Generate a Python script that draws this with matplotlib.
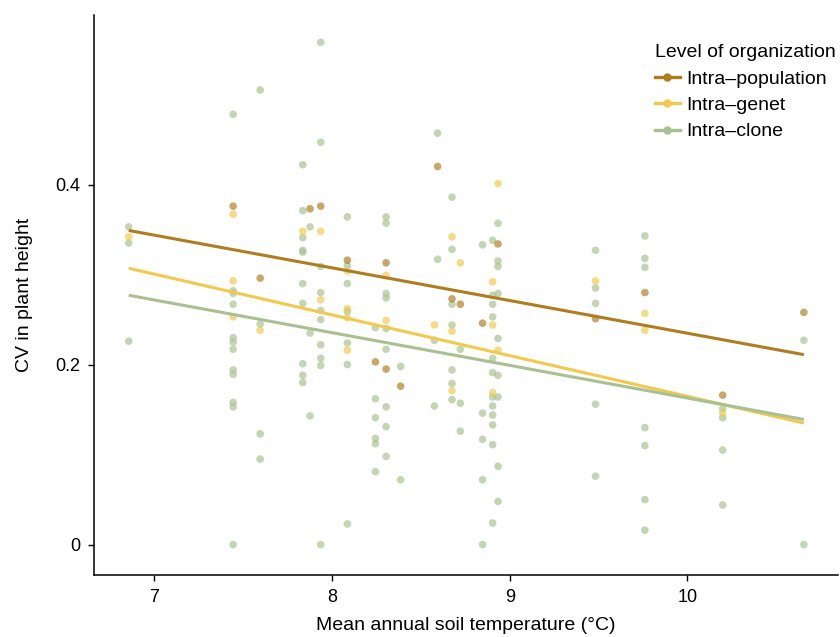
import numpy as np
import matplotlib
matplotlib.use('Agg')
import matplotlib.pyplot as plt
from matplotlib.lines import Line2D

plt.rcParams['font.family'] = ['Liberation Sans', 'DejaVu Sans']

# site mean annual soil temperature (deg C)
sites = [6.855, 7.443, 7.595, 7.835, 7.876, 7.936, 8.086, 8.244, 8.304, 8.386,
         8.576, 8.594, 8.675, 8.722, 8.847, 8.904, 8.934, 9.483, 9.761, 10.199, 10.656]

# CV values per site (same order as sites)
pop_cv = [[], [0.376], [0.296], [], [0.373], [0.376], [0.316], [0.203], [0.313, 0.195],
          [0.176], [], [0.42], [0.273], [0.267], [0.246], [], [0.334], [0.251], [0.280],
          [0.166], [0.258]]
genet_cv = [[0.342], [0.367, 0.293, 0.253], [0.238], [0.348], [], [0.348, 0.272],
            [0.304, 0.262, 0.252, 0.216], [], [0.299, 0.249], [], [0.244], [],
            [0.342, 0.237, 0.171], [0.313], [], [0.292, 0.244, 0.169], [0.401, 0.216],
            [0.293], [0.257, 0.238], [0.146], []]
clone_cv = [[0.353, 0.335, 0.226],
            [0.478, 0.282, 0.279, 0.267, 0.230, 0.225, 0.217, 0.194, 0.189, 0.158, 0.153, 0.0],
            [0.505, 0.245, 0.123, 0.095],
            [0.422, 0.371, 0.341, 0.327, 0.325, 0.290, 0.268, 0.201, 0.188, 0.180],
            [0.353, 0.235, 0.143],
            [0.558, 0.447, 0.309, 0.280, 0.260, 0.250, 0.222, 0.207, 0.199, 0.0],
            [0.364, 0.310, 0.290, 0.259, 0.224, 0.200, 0.023],
            [0.241, 0.162, 0.141, 0.118, 0.112, 0.081],
            [0.364, 0.357, 0.279, 0.274, 0.240, 0.217, 0.153, 0.131, 0.098],
            [0.198, 0.072],
            [0.227, 0.154],
            [0.457, 0.317],
            [0.386, 0.328, 0.267, 0.244, 0.194, 0.179, 0.161],
            [0.217, 0.157, 0.126],
            [0.333, 0.146, 0.117, 0.072, 0.0],
            [0.338, 0.277, 0.267, 0.253, 0.207, 0.191, 0.164, 0.154, 0.144, 0.133, 0.111, 0.024],
            [0.357, 0.315, 0.309, 0.279, 0.229, 0.188, 0.164, 0.087, 0.048],
            [0.327, 0.285, 0.268, 0.156, 0.076],
            [0.343, 0.318, 0.308, 0.130, 0.110, 0.050, 0.016],
            [0.151, 0.141, 0.105, 0.044],
            [0.227, 0.0]]

# fitted lines (values at the first and last site)
fit_x = [6.855, 10.656]
fit_pop = [0.349, 0.211]
fit_genet = [0.307, 0.135]
fit_clone = [0.277, 0.139]

labels = ['Intra\u2013population', 'Intra\u2013genet', 'Intra\u2013clone']
colors = ['#b07d1e', '#f2c94c', '#a9c191']


def expand(cv):
    xs, ys = [], []
    for s, vals in zip(sites, cv):
        for v in vals:
            xs.append(s)
            ys.append(v)
    return xs, ys


fig = plt.figure(figsize=(8.4, 6.37), dpi=100)
ax = fig.add_axes([0.112, 0.097, 0.886, 0.879])

for cv, col in [(clone_cv, colors[2]), (genet_cv, colors[1]), (pop_cv, colors[0])]:
    xs, ys = expand(cv)
    ax.scatter(xs, ys, s=30, color=col, alpha=0.68, edgecolors='none', zorder=2)

for fy, col in [(fit_pop, colors[0]), (fit_genet, colors[1]), (fit_clone, colors[2])]:
    ax.plot(fit_x, fy, color=col, lw=2.2, zorder=3, solid_capstyle='butt')

ax.set_xlim(6.66, 10.85)
ax.set_ylim(-0.034, 0.588)
ax.set_xticks([7, 8, 9, 10])
ax.set_yticks([0, 0.2, 0.4])
ax.set_yticklabels(['0', '0.2', '0.4'])
ax.tick_params(labelsize=13, length=4, width=1, colors='black', pad=6)
for side in ['top', 'right']:
    ax.spines[side].set_visible(False)
for side in ['left', 'bottom']:
    ax.spines[side].set_linewidth(1.1)

ax.set_xlabel('Mean annual soil temperature (\u00b0C)', fontsize=14, labelpad=8)
ax.set_ylabel('CV in plant height', fontsize=14, labelpad=16)

handles = [Line2D([0], [0], color=c, lw=2.4, marker='o', markersize=5) for c in colors]
leg = ax.legend(handles, labels, title='Level of organization', loc='upper left',
                bbox_to_anchor=(0.743, 0.962), frameon=False, fontsize=14,
                title_fontsize=14, handlelength=1.3, handletextpad=0.3,
                labelspacing=0.45, borderaxespad=0)
leg._legend_box.align = 'left'

fig.savefig('out.png', dpi=100)
